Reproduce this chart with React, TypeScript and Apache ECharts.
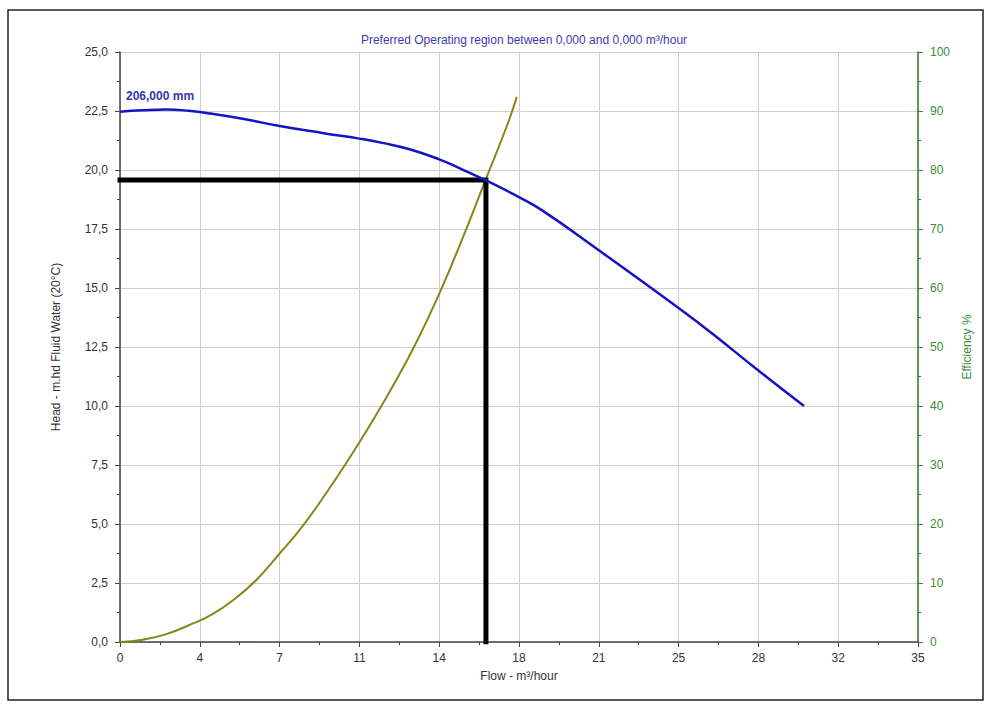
import React, { useEffect, useRef } from "react";
import * as echarts from "echarts";

// Head curve (flow m³/h, head m)
const headFlow = [0, 1, 2, 3, 4, 5.5, 7, 9, 10.5, 11.5, 12.7, 14, 15, 16, 17.5, 18.5, 21, 24.5, 26, 28, 30];
const headValues = [22.47, 22.53, 22.56, 22.51, 22.39, 22.15, 21.86, 21.55, 21.33, 21.15, 20.88, 20.45, 20.03, 19.58, 18.85, 18.3, 16.6, 14.15, 13.05, 11.5, 10.0];

// Efficiency curve (flow m³/h, %)
const effFlow = [0, 1, 2, 3, 4, 5, 6, 7, 8, 9, 10, 11, 12, 13, 14, 15, 16, 17, 17.4];
const effValues = [0, 0.4, 1.3, 2.8, 4.6, 7.2, 10.6, 15.0, 19.6, 25.0, 30.8, 37.0, 43.6, 50.8, 59.0, 68.2, 78.0, 87.8, 92.4];

// Duty point
const dutyFlow = 16.05;
const dutyHead = 19.58;

const titleText = "Preferred Operating region between 0,000 and 0,000 m³/hour";
const curveLabel = "206,000 mm";
const xName = "Flow - m³/hour";
const yLeftName = "Head - m.hd Fluid Water (20°C)";
const yRightName = "Efficiency %";

const FONT = "Liberation Sans, Arial, sans-serif";

export default function App() {
  const ref = useRef<HTMLDivElement>(null);
  useEffect(() => {
    if (!ref.current) return;
    const chart = echarts.init(ref.current, undefined, { renderer: "svg" });
    const headData = headFlow.map((x, i) => [x, headValues[i]]);
    const effData = effFlow.map((x, i) => [x, effValues[i]]);
    const dutyData = [
      [0, dutyHead],
      [dutyFlow, dutyHead],
      [dutyFlow, 0],
    ];
    chart.setOption({
      animation: false,
      backgroundColor: "#ffffff",
      textStyle: { fontFamily: FONT },
      title: {
        text: titleText,
        left: 519,
        textAlign: "center",
        top: 29,
        textStyle: { fontSize: 12, fontWeight: "normal", color: "#3a3ab8", fontFamily: FONT },
      },
      grid: { left: 120, right: 72, top: 52, bottom: 65 },
      xAxis: {
        type: "value",
        min: 0,
        max: 35,
        interval: 3.5,
        name: xName,
        nameLocation: "middle",
        nameGap: 28,
        nameTextStyle: { fontSize: 12, color: "#333", fontFamily: FONT },
        axisLine: { show: true, lineStyle: { color: "#444", width: 1.5 } },
        axisTick: { show: true, length: 5, lineStyle: { color: "#444" } },
        minorTick: { show: true, splitNumber: 2, length: 3, lineStyle: { color: "#444" } },
        axisLabel: {
          fontSize: 12,
          color: "#333",
          margin: 10,
          formatter: (v: number) => String(Math.round(v + 1e-9)),
        },
        splitLine: { show: true, lineStyle: { color: "#cfcfcf", width: 1 } },
      },
      yAxis: [
        {
          type: "value",
          min: 0,
          max: 25,
          interval: 2.5,
          position: "left",
          name: yLeftName,
          nameLocation: "middle",
          nameRotate: 90,
          nameGap: 58,
          nameTextStyle: { fontSize: 12, color: "#333", fontFamily: FONT },
          axisLine: { show: true, lineStyle: { color: "#444", width: 1.5 } },
          axisTick: { show: true, length: 5, lineStyle: { color: "#444" } },
          minorTick: { show: true, splitNumber: 2, length: 3, lineStyle: { color: "#444" } },
          axisLabel: {
            fontSize: 12,
            color: "#333",
            margin: 12,
            formatter: (v: number) => v.toFixed(1).replace(".", ","),
          },
          splitLine: { show: true, lineStyle: { color: "#cfcfcf", width: 1 } },
        },
        {
          type: "value",
          min: 0,
          max: 100,
          interval: 10,
          position: "right",
          name: yRightName,
          nameLocation: "middle",
          nameRotate: 90,
          nameGap: 33,
          nameTextStyle: { fontSize: 12, color: "#3c8c3c", fontFamily: FONT },
          axisLine: { show: true, lineStyle: { color: "#2f7f2f", width: 1.5 } },
          axisTick: { show: true, length: 5, lineStyle: { color: "#2f7f2f" } },
          minorTick: { show: true, splitNumber: 2, length: 3, lineStyle: { color: "#2f7f2f" } },
          axisLabel: { fontSize: 12, color: "#3c8c3c", margin: 12 },
          splitLine: { show: false },
        },
      ],
      series: [
        {
          type: "line",
          name: "Efficiency",
          yAxisIndex: 1,
          data: effData,
          smooth: 0.5,
          showSymbol: false,
          lineStyle: { color: "#86861a", width: 2 },
          z: 3,
        },
        {
          type: "line",
          name: "Duty",
          yAxisIndex: 0,
          data: dutyData,
          showSymbol: false,
          lineStyle: { color: "#000000", width: 5, cap: "square", join: "miter" },
          z: 4,
        },
        {
          type: "line",
          name: "Head",
          yAxisIndex: 0,
          data: headData,
          smooth: 0.5,
          showSymbol: false,
          lineStyle: { color: "#1414c4", width: 2.5 },
          z: 5,
        },
      ],
      graphic: [
        {
          type: "rect",
          shape: { x: 8, y: 10, width: 975, height: 690 },
          style: { fill: "none", stroke: "#222", lineWidth: 1.5 },
          silent: true,
        },
        {
          type: "text",
          x: 126,
          y: 90,
          style: {
            text: curveLabel,
            fill: "#3535b5",
            font: "bold 12px " + FONT,
          },
        },
      ],
    });
    return () => chart.dispose();
  }, []);
  return (
    <div
      ref={ref}
      style={{ position: "fixed", left: 0, top: 0, width: 990, height: 707 }}
    />
  );
}
